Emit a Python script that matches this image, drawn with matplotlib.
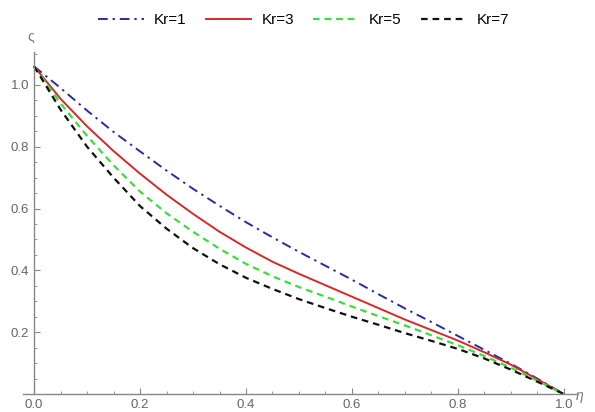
import numpy as np
import matplotlib.pyplot as plt
from matplotlib.ticker import MultipleLocator

# eta grid and curves
eta = [0.0, 0.05, 0.1, 0.15, 0.2, 0.25, 0.3, 0.35, 0.4, 0.45, 0.5, 0.55,
       0.6, 0.65, 0.7, 0.75, 0.8, 0.85, 0.9, 0.95, 1.0]
kr1 = [1.06, 0.99, 0.917, 0.848, 0.785, 0.723, 0.664, 0.609, 0.556, 0.507, 0.46, 0.415,
       0.37, 0.323, 0.277, 0.233, 0.188, 0.143, 0.098, 0.05, 0.0]
kr3 = [1.06, 0.955, 0.866, 0.786, 0.713, 0.645, 0.583, 0.525, 0.474, 0.428, 0.389, 0.352,
       0.315, 0.278, 0.241, 0.207, 0.173, 0.135, 0.095, 0.048, 0.0]
kr5 = [1.06, 0.94, 0.835, 0.74, 0.655, 0.585, 0.525, 0.47, 0.421, 0.381, 0.346, 0.315,
       0.283, 0.252, 0.222, 0.19, 0.158, 0.123, 0.085, 0.043, 0.0]
kr7 = [1.06, 0.92, 0.8, 0.7, 0.608, 0.535, 0.472, 0.42, 0.376, 0.34, 0.307, 0.278,
       0.25, 0.224, 0.197, 0.172, 0.146, 0.115, 0.079, 0.04, 0.0]
labels = ["Kr=1", "Kr=3", "Kr=5", "Kr=7"]

plt.rcParams['font.family'] = ['Liberation Sans', 'DejaVu Sans']

fig = plt.figure(figsize=(5.95, 4.12), dpi=100)
ax = fig.add_axes([0.0387, 0.0437, 0.931, 0.8303])

ax.plot(eta, kr1, color='#2a2aa8', lw=1.4, dashes=(5, 2.5, 1.2, 2.5), label=labels[0])
ax.plot(eta, kr3, color='#d42a2a', lw=1.4, label=labels[1])
ax.plot(eta, kr5, color='#3ddc3d', lw=1.6, dashes=(3, 2.2), label=labels[2])
ax.plot(eta, kr7, color='#111111', lw=1.6, dashes=(3, 2.2), label=labels[3])

ax.set_xlim(-0.021, 1.025)
ax.set_ylim(0, 1.107)

axis_col = '#888888'
for s in ['top', 'right']:
    ax.spines[s].set_visible(False)
ax.spines['left'].set_position(('data', 0))
ax.spines['bottom'].set_position(('data', 0))
for s in ['left', 'bottom']:
    ax.spines[s].set_color(axis_col)
    ax.spines[s].set_linewidth(1.0)

ax.xaxis.set_major_locator(MultipleLocator(0.2))
ax.xaxis.set_minor_locator(MultipleLocator(0.05))
ax.set_yticks([0.2, 0.4, 0.6, 0.8, 1.0])
ax.yaxis.set_minor_locator(MultipleLocator(0.05))
ax.tick_params(which='both', direction='in', color=axis_col, labelcolor='#666666',
               labelsize=9.5)
ax.tick_params(which='major', length=4)
ax.tick_params(which='minor', length=2)
ax.xaxis.set_major_formatter(plt.FuncFormatter(lambda v, p: f"{v:.1f}"))
ax.yaxis.set_major_formatter(plt.FuncFormatter(lambda v, p: f"{v:.1f}"))

fig.text(0.052, 0.912, "ς", color='#777777', fontsize=10, ha='center', va='center')
fig.text(0.967, 0.04, "η", color='#777777', fontsize=10, style='italic',
         ha='left', va='center')

fig.legend(loc='center', bbox_to_anchor=(0.51, 0.951), ncol=4, frameon=False,
           fontsize=11, handlelength=3.0, columnspacing=1.25, handletextpad=0.65)

fig.savefig("out.png", dpi=100)
